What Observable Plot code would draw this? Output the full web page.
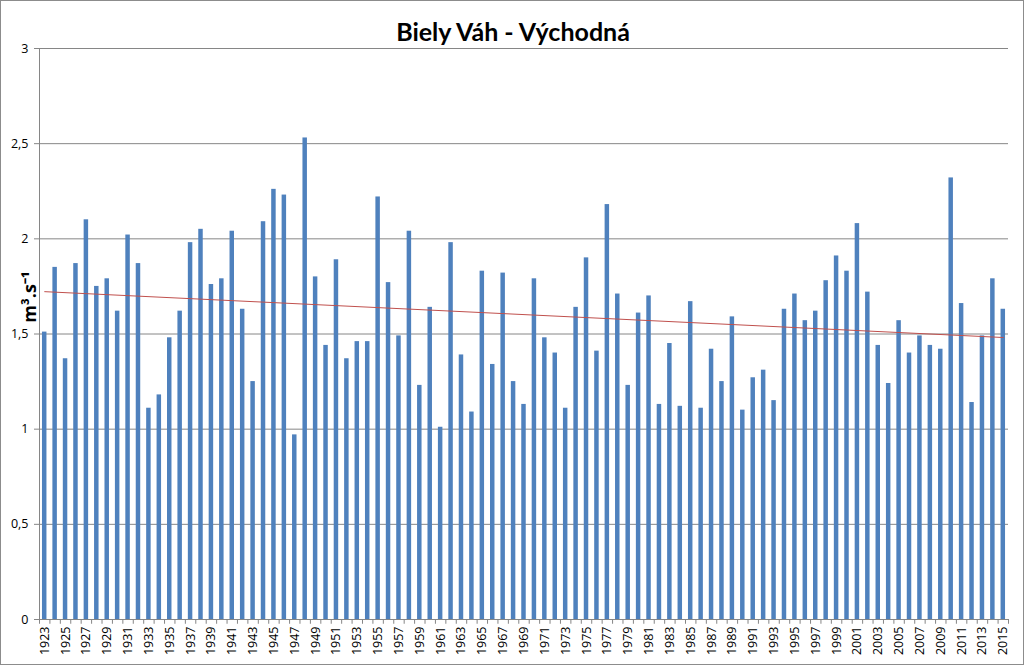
<!DOCTYPE html>
<html>
<head>
<meta charset="utf-8">
<script src="https://cdn.jsdelivr.net/npm/d3@7"></script>
<script src="https://cdn.jsdelivr.net/npm/@observablehq/plot@0.6"></script>
<style>
  html, body { margin: 0; padding: 0; background: #fff; }
  #chart svg { display: block; outline: 1px solid #8c8c8c; outline-offset: -1px; }
</style>
</head>
<body>
<div id="chart"></div>
<script>
const title = "Biely Váh - Východná";
const yLabel = "m³.s⁻¹";
const years = d3.range(1923, 2016);
const flows = [
  1.51, 1.85, 1.37, 1.87, 2.10, 1.75, 1.79, 1.62, 2.02, 1.87,
  1.11, 1.18, 1.48, 1.62, 1.98, 2.05, 1.76, 1.79, 2.04, 1.63,
  1.25, 2.09, 2.26, 2.23, 0.97, 2.53, 1.80, 1.44, 1.89, 1.37,
  1.46, 1.46, 2.22, 1.77, 1.49, 2.04, 1.23, 1.64, 1.01, 1.98,
  1.39, 1.09, 1.83, 1.34, 1.82, 1.25, 1.13, 1.79, 1.48, 1.40,
  1.11, 1.64, 1.90, 1.41, 2.18, 1.71, 1.23, 1.61, 1.70, 1.13,
  1.45, 1.12, 1.67, 1.11, 1.42, 1.25, 1.59, 1.10, 1.27, 1.31,
  1.15, 1.63, 1.71, 1.57, 1.62, 1.78, 1.91, 1.83, 2.08, 1.72,
  1.44, 1.24, 1.57, 1.40, 1.49, 1.44, 1.42, 2.32, 1.66, 1.14,
  1.49, 1.79, 1.63
];
const yTicks = [0, 0.5, 1, 1.5, 2, 2.5, 3];
const xTickYears = years.filter(y => y % 2 === 1);

const data = years.map((year, i) => ({year, value: flows[i]}));

const W = 1024, H = 665, mL = 39, mR = 16, mT = 48, mB = 46;
const step = (W - mL - mR) / years.length;
const grid = "#868686";

const chart = Plot.plot({
  width: W, height: H,
  marginTop: mT, marginBottom: mB, marginLeft: mL, marginRight: mR,
  style: {fontFamily: "'Open Sans', sans-serif", fontSize: "12.5px", color: "#000", background: "#fff", overflow: "visible"},
  x: {type: "band", domain: years, paddingInner: 0.57, paddingOuter: 0.285, align: 0.5},
  y: {domain: [0, 3]},
  marks: [
    Plot.gridY(yTicks.filter(d => d > 0), {stroke: grid, strokeOpacity: 1}),
    Plot.barY(data, {x: "year", y: "value", fill: "#4F81BD"}),
    Plot.linearRegressionY(data, {x: "year", y: "value", ci: 0, stroke: "#C0504D", strokeWidth: 1}),
    Plot.ruleY([0], {stroke: grid}),
    Plot.frame({anchor: "left", stroke: grid}),
    Plot.ruleX(years, {x: d => d, y1: 0, y2: -0.025, dx: -step / 2, stroke: grid}),
    Plot.ruleX(years.slice(-1), {x: d => d, y1: 0, y2: -0.025, dx: step / 2, stroke: grid}),
    Plot.axisY({ticks: yTicks, tickSize: 5, text: null, stroke: grid, label: null}),
    Plot.axisY({ticks: yTicks, tickSize: 0, tickPadding: 11, tickFormat: d => String(d).replace(".", ","), label: null, fill: "#000"}),
    Plot.axisX({ticks: xTickYears, tickRotate: -90, tickSize: 0, tickPadding: 7, tickFormat: d => String(d), label: null, fill: "#000"}),
    Plot.text([title], {frameAnchor: "top", dx: -11, dy: -17 - 8, fontSize: 25, fontWeight: "bold", fontFamily: "Lato, sans-serif", fill: "#000"}),
    Plot.text([yLabel], {frameAnchor: "left", textAnchor: "middle", rotate: -90, dx: -9, dy: -37, fontSize: 18, fontWeight: "bold", fill: "#000"})
  ]
});
document.getElementById("chart").appendChild(chart);
</script>
</body>
</html>
